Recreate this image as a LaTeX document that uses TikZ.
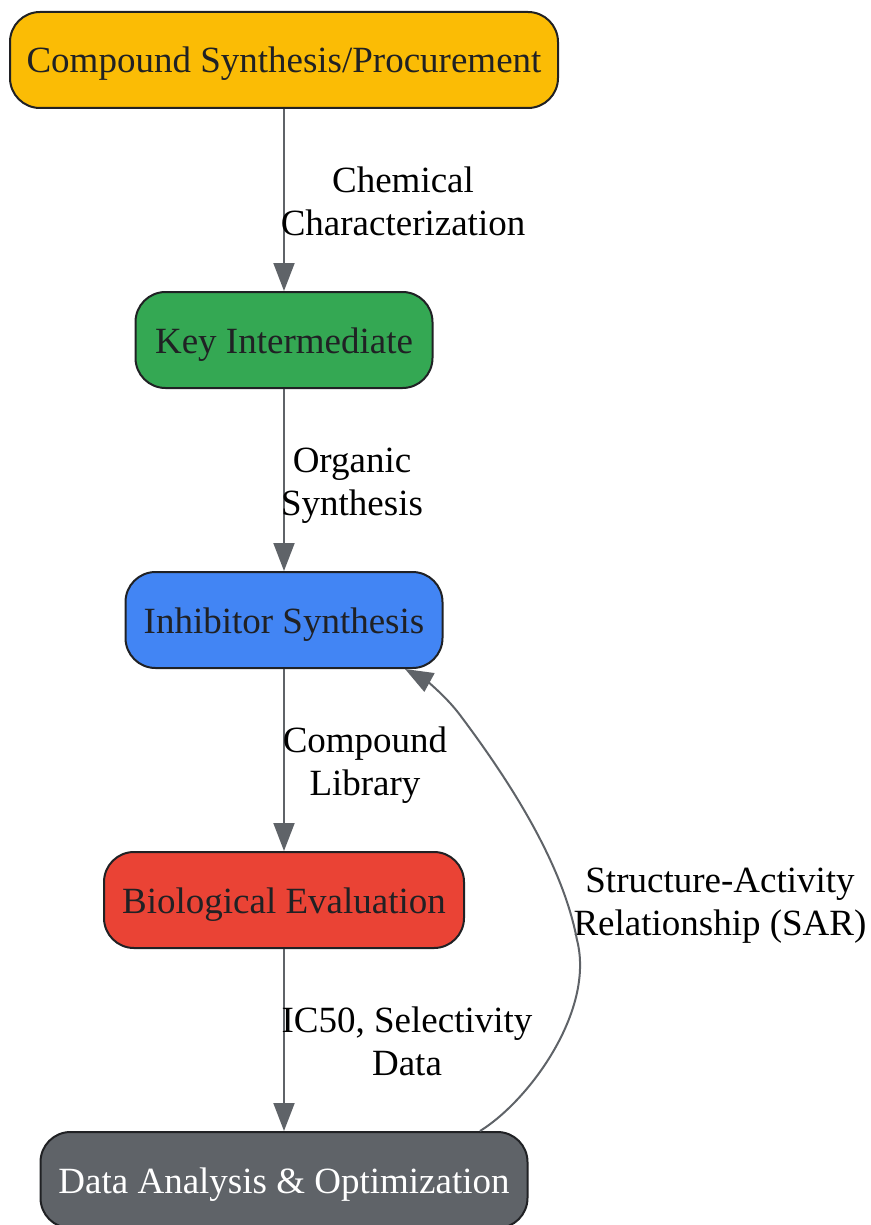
\documentclass[tikz,border=0pt]{standalone}
\usepackage{fontspec}
\setmainfont{Liberation Serif}
\usetikzlibrary{arrows.meta,calc}
\definecolor{cyellow}{HTML}{FBBC05}
\definecolor{cgreen}{HTML}{34A853}
\definecolor{cblue}{HTML}{4285F4}
\definecolor{cred}{HTML}{EA4335}
\definecolor{cgray}{HTML}{5F6368}
\definecolor{cedge}{HTML}{5F6368}
\definecolor{ctext}{HTML}{202124}
\definecolor{cborder}{HTML}{202124}
\newcommand{\lstrut}{\rule[-12.9pt]{0pt}{43pt}}
\tikzset{
  box/.style={draw=cborder, line width=2pt, rounded corners=30pt, minimum height=96pt,
    inner sep=0pt, text height=29pt, text depth=3pt, font=\fontsize{37}{43}\selectfont, text=ctext},
  conn/.style={draw=cedge, line width=2pt, -{Triangle[length=28pt,width=21pt]}},
  lab/.style={font=\fontsize{37}{43}\selectfont, align=center, text=black}
}
\begin{document}
\begin{tikzpicture}[x=1pt,y=-1pt]
\useasboundingbox (0,0) rectangle (870,1225);
\node[box, fill=cyellow, minimum width=548pt] (n1) at (284,60) {Compound Synthesis/Procurement};
\node[box, fill=cgreen, minimum width=297pt] (n2) at (284,340) {Key Intermediate};
\node[box, fill=cblue, minimum width=317pt] (n3) at (284,620) {Inhibitor Synthesis};
\node[box, fill=cred, minimum width=360pt] (n4) at (284,900) {Biological Evaluation};
\node[box, fill=cgray, minimum width=487pt, text=white] (n5) at (284,1180) {Data Analysis \& Optimization};

\draw[conn] (n1) -- (n2);
\draw[conn] (n2) -- (n3);
\draw[conn] (n3) -- (n4);
\draw[conn] (n4) -- (n5);

\node[lab] (l1) at (403,205) {\lstrut Chemical\\Characterization\lstrut};
\node[lab] (l2) at (352,485) {\lstrut Organic\\Synthesis\lstrut};
\node[lab] (l3) at (365,765) {\lstrut Compound\\Library\lstrut};
\node[lab] (l4) at (407,1045) {\lstrut IC50, Selectivity\\Data\lstrut};
\node[lab] (l5) at (720,905) {\lstrut Structure-Activity\\Relationship (SAR)\lstrut};

\coordinate (s) at ([xshift=196pt]n5.north);
\coordinate (e) at ([xshift=121pt]n3.south);
\draw[conn] (s) .. controls (530,1100) and (595,1010) .. (577,940)
  .. controls (562,860) and (505,775) .. (460,715)
  .. controls (445,695) and (425,680) .. (e);
\end{tikzpicture}
\end{document}
